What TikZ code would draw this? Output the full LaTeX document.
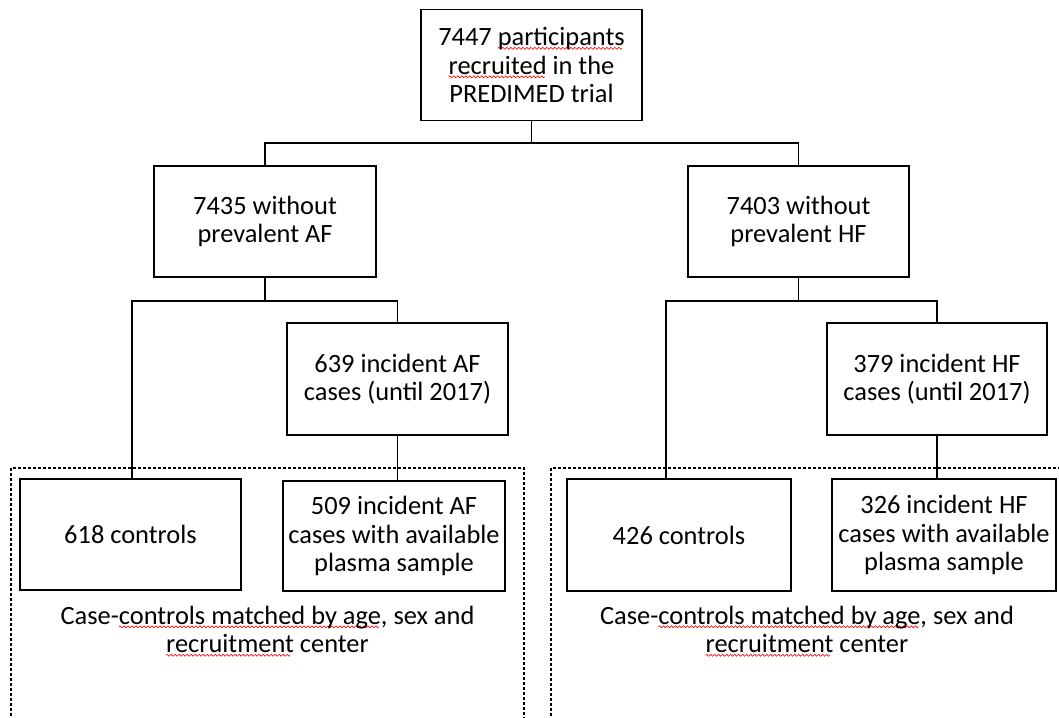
\documentclass[tikz,border=0pt]{standalone}
\usepackage{fontspec}
\setmainfont{Carlito}
\usepackage{xcolor}
\newsavebox\wavebox
\newsavebox\spellbox
\newcommand\spell[1]{\sbox\spellbox{#1}\rlap{\lower3.8pt\hbox to\wd\spellbox{\leaders\copy\wavebox\hfill}}\usebox\spellbox}
\begin{document}
\sbox\wavebox{\begin{pgfpicture}%
\pgfpathrectangle{\pgfpoint{0pt}{-1pt}}{\pgfpoint{4pt}{2pt}}\pgfusepath{use as bounding box}%
\pgfsetstrokecolor{red}\pgfsetlinewidth{0.6pt}%
\pgfpathmoveto{\pgfpoint{0pt}{0pt}}%
\pgfpathsine{\pgfpoint{1pt}{1pt}}%
\pgfpathcosine{\pgfpoint{1pt}{-1pt}}%
\pgfpathsine{\pgfpoint{1pt}{-1pt}}%
\pgfpathcosine{\pgfpoint{1pt}{1pt}}%
\pgfusepath{stroke}%
\end{pgfpicture}}%
\begin{tikzpicture}[x=1pt,y=-1pt,
  box/.style={draw, line width=1.3pt, inner sep=0pt, minimum width=221pt, minimum height=111pt, align=center, font=\fontsize{26.4}{28.5}\selectfont},
  captext/.style={inner sep=0pt, align=center, font=\fontsize{26.4}{28.5}\selectfont},
  conn/.style={line width=1.3pt},
  dashbox/.style={draw, line width=1.2pt, dash pattern=on 3pt off 2pt}]
\path[use as bounding box] (0,0) rectangle (1059,717);
\clip (0,0) rectangle (1059,717);

\draw[dashbox] (11,468) rectangle (524,740);
\draw[dashbox] (551,468) rectangle (1064,740);

\node[box] (top) at (531.5,65) {7447 \spell{participants}\\\spell{recruited} in the\\PREDIMED trial};
\node[box, minimum width=222pt] (afbox) at (265,221.5) {7435 without\\prevalent AF};
\node[box] (hfbox) at (798.5,221.5) {7403 without\\prevalent HF};
\node[box, minimum height=112pt] (af639) at (397.5,379) {639 incident AF\\cases (until 2017)};
\node[box, minimum height=112pt, minimum width=220pt] (hf379) at (937,379) {379 incident HF\\cases (until 2017)};
\node[box] (c618) at (130.5,534.5) {618 controls};
\node[box, minimum width=222pt, minimum height=110pt] (af509) at (394,536) {509 incident AF\\cases with available\\plasma sample};
\node[box, minimum width=224pt, minimum height=112pt] (c426) at (679,535) {426 controls};
\node[box, minimum width=224pt, minimum height=112pt] (hf326) at (944,535) {326 incident HF\\cases with available\\plasma sample};

\node[captext] (capaf) at (267.5,631) {Case-\spell{controls matched by age}, sex and\\\spell{recruitment} center};
\node[captext] (caphf) at (807,631) {Case-\spell{controls matched by age}, sex and\\\spell{recruitment} center};

\coordinate (j1) at (531.5,143);
\coordinate (j2) at (265,301);
\coordinate (j3) at (798.5,301);

\draw[conn] (top.south) -- (j1);
\draw[conn] (afbox.north) |- (j1) -| (hfbox.north);
\draw[conn] (afbox.south) -- (j2);
\draw[conn] ([xshift=1.5pt]c618.north) |- (j2) -| (af639.north);
\draw[conn] (af639.south) -- (af639.south |- af509.north);
\draw[conn] (hfbox.south) -- (j3);
\draw[conn] ([xshift=-13pt]c426.north) |- (j3) -| (hf379.north);
\draw[conn] (hf379.south) -- (hf379.south |- hf326.north);
\end{tikzpicture}
\end{document}
